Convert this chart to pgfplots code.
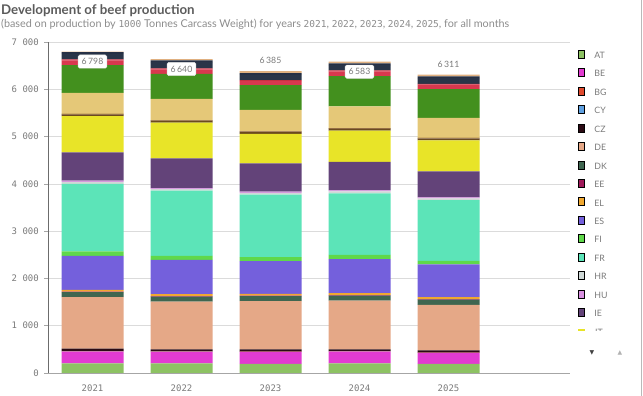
\documentclass[border=0pt]{standalone}
\usepackage{fontspec}
\setmainfont{Lato}
\setsansfont{Lato}
\setmonofont{DejaVu Sans Mono}
\newfontfamily\symfont{DejaVu Sans}
\usepackage{pgfplots}
\usepackage{pgfplotstable}
\pgfplotsset{compat=1.18}

\definecolor{cAT}{HTML}{8DC263}
\definecolor{cBE}{HTML}{E23BD1}
\definecolor{cBG}{HTML}{E04A2E}
\definecolor{cCY}{HTML}{5FA0E0}
\definecolor{cCZ}{HTML}{2B0B14}
\definecolor{cDE}{HTML}{E5A887}
\definecolor{cDK}{HTML}{3F6650}
\definecolor{cEE}{HTML}{A0195A}
\definecolor{cEL}{HTML}{F0A830}
\definecolor{cES}{HTML}{7460DC}
\definecolor{cFI}{HTML}{5FD84A}
\definecolor{cFR}{HTML}{5CE4B8}
\definecolor{cHR}{HTML}{CFD8D6}
\definecolor{cHU}{HTML}{D890E0}
\definecolor{cIE}{HTML}{634379}
\definecolor{cIT}{HTML}{E8E428}
\definecolor{cLT}{HTML}{6B4A1E}
\definecolor{cLU}{HTML}{8B5A2B}
\definecolor{cLV}{HTML}{7A5020}
\definecolor{cMT}{HTML}{B08050}
\definecolor{cNL}{HTML}{E5C878}
\definecolor{cPL}{HTML}{43901E}
\definecolor{cPT}{HTML}{D8384E}
\definecolor{cRO}{HTML}{C83040}
\definecolor{cSE}{HTML}{2A3548}
\definecolor{cSI}{HTML}{263045}
\definecolor{cSK}{HTML}{E0B080}
\definecolor{titlegray}{HTML}{5B5B5B}
\definecolor{subgray}{HTML}{8C8C8C}
\definecolor{tickgray}{HTML}{7A7A7A}

\pgfplotstableread{
x AT BE BG CY CZ DE DK EE EL ES FI FR HR HU IE IT LT LU LV MT NL PL PT RO SE SI SK
0 205 247 6 4 54 1087 106 10 39 721 92 1426 45 26 600 763 33 8 7 1 445 586 100 20 118 35 14
1 205 240 6 4 46 1010 106 10 40 727 85 1377 36 20 629 756 34 8 6 1 452 530 93 20 134 35 30
2 191 254 5 4 47 1017 106 10 40 692 85 1320 40 24 600 621 40 8 8 1 452 522 86 20 114 35 43
3 205 247 5 4 41 1030 106 10 40 720 92 1299 40 24 600 664 34 8 7 1 459 642 100 20 114 35 36
4 191 233 5 4 47 961 113 10 39 692 78 1285 35 22 551 656 34 8 7 1 423 608 93 20 120 35 40
}\beef

\pgfplotsset{/pgfplots/ybar legend/.style={/pgfplots/legend image code/.code={\fill[##1] (0pt,-3.5pt) rectangle (7pt,3.5pt);}}}
\tikzset{boxlab/.style={font=\fontsize{8.7}{9}\selectfont, text=tickgray, fill=white, draw=gray!25, rounded corners=1.5pt, inner xsep=3.5pt, inner ysep=3.5pt},
         toplab/.style={font=\fontsize{8.7}{9}\selectfont, text=tickgray, inner sep=0pt}}

\begin{document}
\begin{tikzpicture}[x=1pt,y=1pt]
\path[use as bounding box] (0,0) rectangle (643,396);
\begin{axis}[
  at={(48pt,23pt)}, anchor=south west, scale only axis,
  width=522pt, height=331pt,
  ybar stacked, bar width=62pt,
  xmin=-0.5, xmax=5.365, ymin=0, ymax=7000,
  xtick={0,1,2,3,4}, xticklabels={2021,2022,2023,2024,2025},
  ytick={0,1000,...,7000},
  axis lines*=left, axis line style={-},
  x axis line style={draw=gray!70},
  y axis line style={draw=gray!85!black},
  ymajorgrids, grid style={draw=gray!28, line width=0.6pt},
  xtick style={draw=none},
  ytick style={draw=gray!70, line width=0.5pt},
  tick align=outside, major tick length=4pt,
  tick label style={font=\ttfamily\fontsize{9}{9}\selectfont, text=tickgray},
  yticklabel style={inner sep=0pt, xshift=-5pt},
  xticklabel style={yshift=-4pt},
  /pgf/number format/1000 sep={\ },
  /pgf/number format/assume math mode=true,
  legend entries={AT,BE,BG,CY,CZ,DE,DK,EE,EL,ES,FI,FR,HR,HU,IE},
  legend style={at={(axis description cs:1.0153,0.9855)}, anchor=north west,
    draw=none, fill=none, inner sep=0pt, outer sep=0pt, column sep=10pt,
    font=\fontsize{8.8}{9}\selectfont, text=tickgray,
    nodes={inner sep=0pt, minimum height=18.45pt}},
  legend cell align=left,
]
\pgfplotsinvokeforeach{AT,BE,BG,CY,CZ,DE,DK,EE,EL,ES,FI,FR,HR,HU,IE,IT,LT,LU,LV,MT,NL,PL,PT,RO,SE,SI,SK}{
  \addplot[fill=c#1, draw=none] table[x=x, y=#1] {\beef};
}
\coordinate (t0) at (axis cs:0,6798);
\coordinate (t1) at (axis cs:1,6640);
\coordinate (t2) at (axis cs:2,6385);
\coordinate (t3) at (axis cs:3,6583);
\coordinate (t4) at (axis cs:4,6311);
\end{axis}
% total labels
\node[boxlab] at ([yshift=-10pt]t0) {6\,798};
\node[boxlab] at ([yshift=-10pt]t1) {6\,640};
\node[toplab] at ([yshift=10.5pt]t2) {6\,385};
\node[boxlab] at ([yshift=-10pt]t3) {6\,583};
\node[toplab] at ([yshift=10.5pt]t4) {6\,311};
% title and subtitle
\node[anchor=base west, inner sep=0pt, font=\bfseries\fontsize{13.3}{14}\selectfont, text=titlegray] at (1,381) {Development of beef production};
\node[anchor=base west, inner sep=0pt, font=\fontsize{10.8}{11}\selectfont, text=subgray] at (1,368) {(based on production by {\ttfamily\fontsize{9.5}{10}\selectfont 1000} Tonnes Carcass Weight) for years {\ttfamily\fontsize{9.5}{10}\selectfont 2021}, {\ttfamily\fontsize{9.5}{10}\selectfont 2022}, {\ttfamily\fontsize{9.5}{10}\selectfont 2023}, {\ttfamily\fontsize{9.5}{10}\selectfont 2024}, {\ttfamily\fontsize{9.5}{10}\selectfont 2025}, for all months};
% partial (scrolled) legend row
\begin{scope}
  \clip (570,65) rectangle (640,70);
  \fill[cIT] (578,60.1) rectangle (585,67.1);
  \node[anchor=west, inner sep=0pt, font=\fontsize{8.8}{9}\selectfont, text=tickgray] at (595,63.6) {IT};
\end{scope}
% scroll arrows
\node[font=\symfont\fontsize{6}{6}\selectfont, text=black!75] at (592,43) {▼};
\node[font=\symfont\fontsize{6}{6}\selectfont, text=gray!60] at (620,43) {▲};
% right border
\draw[gray!55, line width=0.8pt] (641.5,0) -- (641.5,396);
\end{tikzpicture}
\end{document}
